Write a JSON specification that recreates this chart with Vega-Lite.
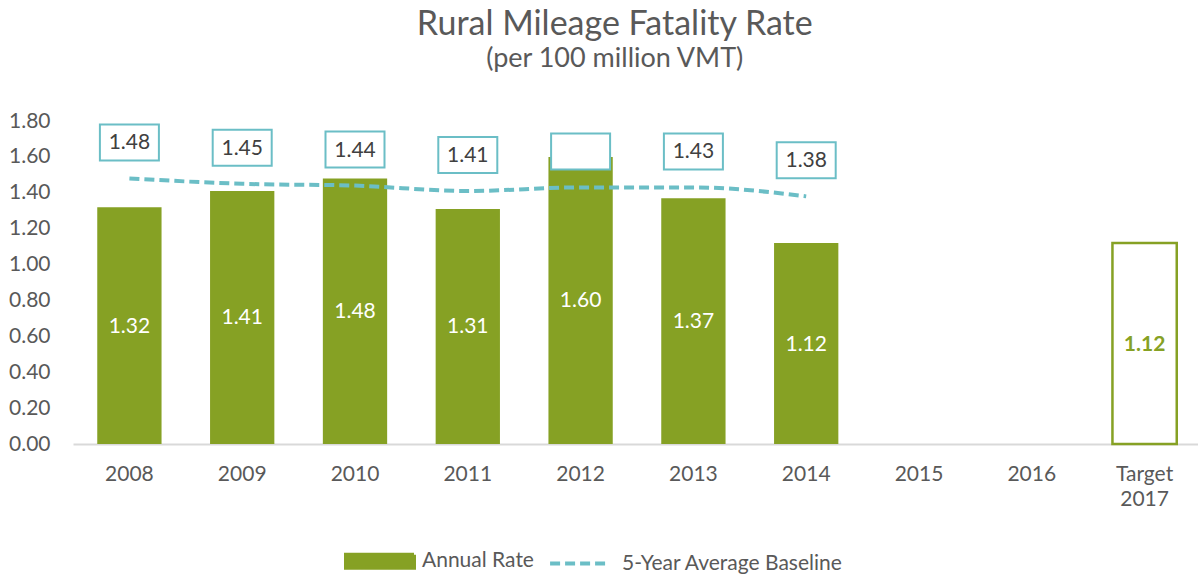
{
  "$schema": "https://vega.github.io/schema/vega-lite/v6.json",
  "width": 1128,
  "height": 323,
  "padding": {"left": 8, "right": 0, "top": 8, "bottom": 0},
  "background": "white",
  "title": {
    "text": "Rural Mileage Fatality Rate",
    "subtitle": "(per 100 million VMT)",
    "anchor": "middle",
    "frame": "bounds",
    "dx": 10,
    "font": "Lato",
    "fontSize": 34,
    "fontWeight": "normal",
    "color": "#595959",
    "subtitleFont": "Lato",
    "subtitleFontSize": 27,
    "subtitleColor": "#595959",
    "subtitlePadding": 4,
    "offset": 38
  },
  "data": {
    "values": [
      {"year": "2008", "rate": 1.32, "baseline": 1.48, "blabel": "1.48"},
      {"year": "2009", "rate": 1.41, "baseline": 1.45, "blabel": "1.45"},
      {"year": "2010", "rate": 1.48, "baseline": 1.44, "blabel": "1.44"},
      {"year": "2011", "rate": 1.31, "baseline": 1.41, "blabel": "1.41"},
      {"year": "2012", "rate": 1.60, "baseline": 1.43, "blabel": ""},
      {"year": "2013", "rate": 1.37, "baseline": 1.43, "blabel": "1.43"},
      {"year": "2014", "rate": 1.12, "baseline": 1.38, "blabel": "1.38"},
      {"year": "Target 2017", "target": 1.12}
    ]
  },
  "encoding": {
    "x": {
      "field": "year",
      "type": "nominal",
      "sort": null,
      "title": null,
      "scale": {
        "domain": ["2008", "2009", "2010", "2011", "2012", "2013", "2014", "2015", "2016", "Target 2017"],
        "paddingInner": 0.43,
        "paddingOuter": 0.215
      },
      "axis": {
        "labelAngle": 0,
        "labelFont": "Lato",
        "labelFontSize": 21,
        "labelColor": "#595959",
        "ticks": false,
        "tickSize": 0,
        "labelPadding": 19,
        "labelBaseline": "top",
        "labelLineHeight": 25,
        "domainColor": "#D9D9D9",
        "domainWidth": 2,
        "grid": false,
        "labelExpr": "datum.value == 'Target 2017' ? ['Target', '2017'] : datum.value"
      }
    }
  },
  "layer": [
    {
      "mark": {"type": "bar"},
      "encoding": {
        "y": {
          "field": "rate",
          "type": "quantitative",
          "scale": {"domain": [0, 1.8], "nice": false},
          "axis": {
            "title": null,
            "values": [0, 0.2, 0.4, 0.6, 0.8, 1.0, 1.2, 1.4, 1.6, 1.8],
            "format": ".2f",
            "domain": false,
            "ticks": false,
            "tickSize": 0,
            "grid": false,
            "labelFont": "Lato",
            "labelFontSize": 21,
            "labelColor": "#595959",
            "labelPadding": 23
          }
        },
        "color": {
          "datum": "Annual Rate",
          "type": "nominal",
          "scale": {
            "domain": ["Annual Rate", "5-Year Average Baseline"],
            "range": ["#86A124", "#6BBEC6"]
          },
          "legend": {
            "title": null,
            "orient": "none",
            "legendX": 271,
            "legendY": 404,
            "direction": "horizontal",
            "labelFont": "Lato",
            "labelFontSize": 21,
            "labelColor": "#595959",
            "labelLimit": 500,
            "symbolSize": 4624,
            "labelOffset": 6,
            "columnPadding": 8,
            "encode": {
              "symbols": {
                "update": {
                  "shape": {"signal": "datum.value === 'Annual Rate' ? 'M-1,-0.19H1V0.19H-1Z' : 'M-0.88,0H0.88'"},
                  "fill": {"signal": "datum.value === 'Annual Rate' ? '#86A124' : 'transparent'"},
                  "stroke": {"signal": "datum.value === 'Annual Rate' ? 'transparent' : '#6BBEC6'"},
                  "strokeWidth": {"value": 4},
                  "strokeDash": {"signal": "datum.value === 'Annual Rate' ? [1, 0] : [10, 5]"},
                  "opacity": {"value": 1},
                  "fillOpacity": {"value": 1},
                  "strokeOpacity": {"value": 1}
                }
              }
            }
          }
        }
      }
    },
    {
      "mark": {"type": "bar", "fill": "white", "stroke": "#86A124", "strokeWidth": 2.5},
      "encoding": {
        "y": {"field": "target", "type": "quantitative", "scale": {"domain": [0, 1.8], "nice": false}, "axis": null}
      }
    },
    {
      "mark": {"type": "line", "strokeWidth": 4, "strokeDash": [10, 5], "interpolate": "monotone"},
      "encoding": {
        "y": {"field": "baseline", "type": "quantitative", "scale": {"domain": [0, 1.8], "nice": false}, "axis": null},
        "color": {"datum": "5-Year Average Baseline", "type": "nominal"}
      }
    },
    {
      "mark": {
        "type": "point",
        "shape": "M-1,-0.61H1V0.61H-1Z",
        "size": 3481,
        "filled": true,
        "fill": "white",
        "stroke": "#6BBEC6",
        "strokeWidth": 2,
        "opacity": 1,
        "yOffset": -36
      },
      "encoding": {
        "y": {"field": "baseline", "type": "quantitative", "scale": {"domain": [0, 1.8], "nice": false}, "axis": null}
      }
    },
    {
      "mark": {"type": "text", "font": "Lato", "fontSize": 21, "color": "#404040", "baseline": "middle", "yOffset": -35},
      "encoding": {
        "y": {"field": "baseline", "type": "quantitative", "scale": {"domain": [0, 1.8], "nice": false}, "axis": null},
        "text": {"field": "blabel", "type": "nominal"}
      }
    },
    {
      "mark": {"type": "text", "font": "Lato", "fontSize": 21, "color": "white", "baseline": "middle", "yOffset": 1},
      "encoding": {
        "y": {"field": "rate", "type": "quantitative", "scale": {"domain": [0, 3.6], "nice": false}, "axis": null},
        "text": {"field": "rate", "type": "quantitative", "format": ".2f"}
      }
    },
    {
      "mark": {"type": "text", "font": "Lato", "fontSize": 21, "fontWeight": "bold", "color": "#86A124", "baseline": "middle", "yOffset": 1},
      "encoding": {
        "y": {"field": "target", "type": "quantitative", "scale": {"domain": [0, 3.6], "nice": false}, "axis": null},
        "text": {"field": "target", "type": "quantitative", "format": ".2f"}
      }
    }
  ],
  "resolve": {"scale": {"y": "independent"}},
  "config": {"view": {"stroke": null}, "font": "Lato"}
}
